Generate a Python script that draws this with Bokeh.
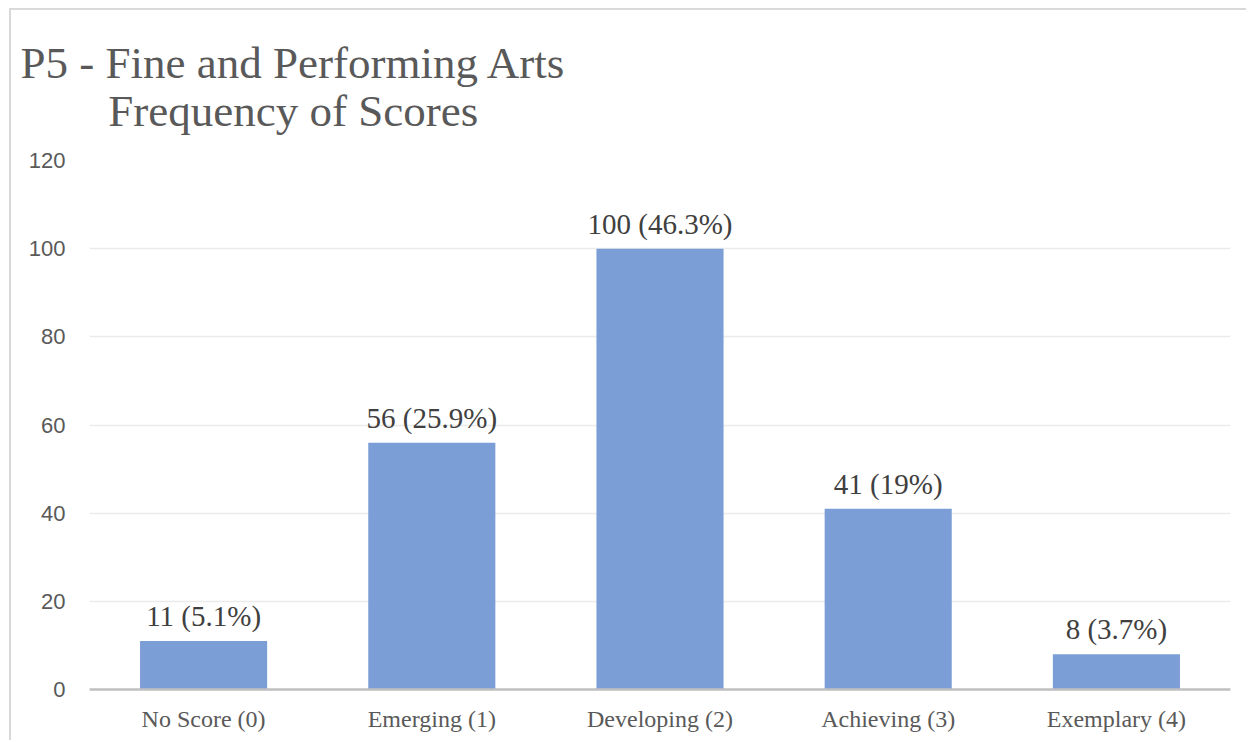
from bokeh.plotting import figure
from bokeh.models import ColumnDataSource, LabelSet, Title, FactorRange
from bokeh.embed import file_html
from bokeh.resources import INLINE

categories = ["No Score (0)", "Emerging (1)", "Developing (2)", "Achieving (3)", "Exemplary (4)"]
counts = [11, 56, 100, 41, 8]
percents = ["5.1%", "25.9%", "46.3%", "19%", "3.7%"]
y_ticks = [0, 20, 40, 60, 80, 100, 120]
title_line1 = "P5 - Fine and Performing Arts"
title_line2 = "Frequency of Scores"

labels = [f"{c} ({p})" for c, p in zip(counts, percents)]
src = ColumnDataSource(dict(cat=categories, val=counts, lab=labels))

W, H = 1237, 732
p = figure(x_range=FactorRange(*categories), y_range=(0, 120),
           width=W, height=H, output_backend="svg", toolbar_location=None,
           min_border_left=78, min_border_right=18, min_border_top=150, min_border_bottom=53)
p.styles = {"border-top": "2px solid #d9d9d9", "border-left": "2px solid #d9d9d9"}
p.margin = (8, 0, 0, 9)
p.outline_line_color = None
p.background_fill_color = "white"
p.border_fill_color = "white"

p.vbar(x="cat", top="val", width=0.557, source=src, fill_color="#7b9ed6", line_color=None)

p.add_layout(LabelSet(x="cat", y="val", text="lab", source=src, y_offset=15,
                      text_align="center", text_baseline="alphabetic",
                      text_font="Liberation Serif", text_font_size="29px", text_color="#404040"))

# axes
p.yaxis.ticker = y_ticks
p.yaxis.axis_line_color = None
p.yaxis.major_tick_line_color = None
p.yaxis.minor_tick_line_color = None
p.yaxis.major_label_standoff = 18
p.yaxis.major_label_text_font = "Liberation Sans"
p.yaxis.major_label_text_font_size = "22px"
p.yaxis.major_label_text_color = "#595959"

p.xaxis.axis_line_color = "#bfbfbf"
p.xaxis.axis_line_width = 2.5
p.xaxis.major_tick_line_color = None
p.xaxis.minor_tick_line_color = None
p.xaxis.major_label_standoff = 10
p.xaxis.major_label_text_font = "Liberation Serif"
p.xaxis.major_label_text_font_size = "24px"
p.xaxis.major_label_text_color = "#595959"

p.xgrid.grid_line_color = None
p.ygrid.grid_line_color = "#ebebeb"
p.ygrid.grid_line_width = 1.5

indent = "\u00a0" * 7 + "\u2009"
p.add_layout(Title(text=title_line1 + "\n" + indent + title_line2, align="left", offset=-69,
                   standoff=49, text_line_height=0.97,
                   text_font="Liberation Serif", text_font_size="45px", text_color="#595959",
                   text_font_style="normal"), "above")

open("out.html", "w").write(file_html(p, INLINE))
